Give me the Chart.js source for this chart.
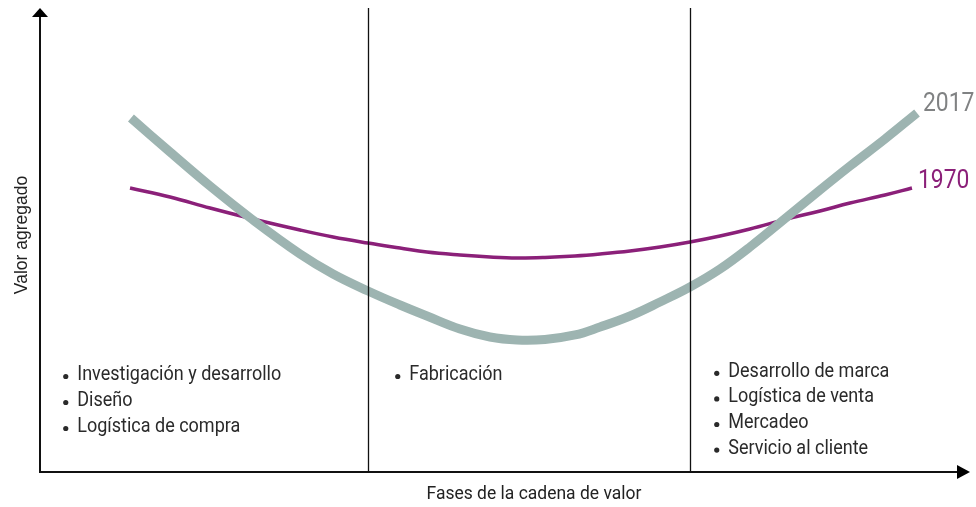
<!DOCTYPE html>
<html>
<head>
<meta charset="utf-8">
<script src="https://cdn.jsdelivr.net/npm/chart.js@4/dist/chart.umd.min.js"></script>
<style>
html,body{margin:0;padding:0;background:#fff;}
#wrap{width:976px;height:507px;}
</style>
</head>
<body>
<div id="wrap"><canvas id="c" width="976" height="507"></canvas></div>
<script>
// ---- Data ----
const seriesNames = ["2017", "1970"];
const x2017 = [9.78, 13.98, 18.28, 22.90, 27.96, 31.51, 35.27, 38.71, 41.61, 45.16, 48.39, 51.29, 54.30,
               57.53, 60.22, 63.44, 66.67, 69.89, 73.12, 76.34, 80.32, 83.87, 87.10, 90.86, 94.30];
const y2017 = [76.29, 68.97, 61.64, 54.31, 46.98, 42.67, 39.01, 35.99, 33.62, 30.82, 29.09, 28.45, 28.56,
               29.53, 31.25, 33.62, 36.64, 39.87, 43.75, 48.49, 54.96, 60.78, 65.95, 71.77, 77.37];
const x1970 = [9.68, 13.98, 18.28, 22.90, 27.96, 31.51, 35.27, 38.71, 41.61, 45.16, 48.39, 51.29, 54.30,
               57.53, 60.22, 63.44, 66.67, 69.89, 73.12, 76.34, 80.32, 83.87, 87.10, 90.86, 93.76];
const y1970 = [61.21, 59.27, 56.90, 54.53, 52.16, 50.65, 49.35, 48.28, 47.41, 46.77, 46.34, 46.12, 46.23,
               46.55, 46.98, 47.63, 48.49, 49.57, 50.86, 52.37, 54.53, 56.25, 57.97, 59.70, 61.21];
const phaseDividers = [35.3, 69.9];
const phaseLeft = ["Investigación y desarrollo", "Diseño", "Logística de compra"];
const phaseMiddle = ["Fabricación"];
const phaseRight = ["Desarrollo de marca", "Logística de venta", "Mercadeo", "Servicio al cliente"];
const xTitle = "Fases de la cadena de valor";
const yTitle = "Valor agregado";

const toPts = (xs, ys) => xs.map((x, i) => ({x: x, y: ys[i]}));
const FONT = "Roboto, 'Liberation Sans', sans-serif";

function condText(ctx, t, x, y, sx) {
  ctx.save();
  ctx.translate(x, y);
  ctx.scale(sx, 1);
  ctx.fillText(t, 0, 0);
  ctx.restore();
}

const overlay = {
  id: 'overlay',
  afterDatasetsDraw(chart) {
    const ctx = chart.ctx;
    const xs = chart.scales.x, ys = chart.scales.y;
    const L = xs.getPixelForValue(0), R = xs.getPixelForValue(100);
    const T = ys.getPixelForValue(100), B = ys.getPixelForValue(0);
    ctx.save();
    // dividers
    ctx.strokeStyle = '#111';
    ctx.lineWidth = 1.3;
    phaseDividers.forEach(v => {
      const px = Math.round(xs.getPixelForValue(v)) + 0.5;
      ctx.beginPath(); ctx.moveTo(px, T); ctx.lineTo(px, B); ctx.stroke();
    });
    // axes
    ctx.lineWidth = 2;
    ctx.beginPath();
    ctx.moveTo(L, T + 6); ctx.lineTo(L, B); ctx.lineTo(R - 8, B);
    ctx.stroke();
    ctx.fillStyle = '#000';
    ctx.beginPath();
    ctx.moveTo(L, T); ctx.lineTo(L - 8, T + 9); ctx.lineTo(L + 8, T + 9); ctx.closePath(); ctx.fill();
    ctx.beginPath();
    ctx.moveTo(R, B); ctx.lineTo(R - 13, B - 7); ctx.lineTo(R - 13, B + 7); ctx.closePath(); ctx.fill();

    // phase lists
    ctx.fillStyle = '#2a2a2a';
    ctx.font = '20px ' + FONT;
    ctx.textBaseline = 'middle';
    ctx.textAlign = 'left';
    const drawList = (list, xv, y0, step) => {
      const px = xs.getPixelForValue(xv);
      list.forEach((t, i) => {
        const py = y0 + i * step;
        ctx.beginPath(); ctx.arc(px + 2.5, py + 1.5, 2.6, 0, Math.PI * 2); ctx.fill();
        condText(ctx, t, px + 14, py, 0.9);
      });
    };
    drawList(phaseLeft, 2.5, ys.getPixelForValue(20.9), 26);
    drawList(phaseMiddle, 38.2, ys.getPixelForValue(20.9), 26);
    drawList(phaseRight, 72.5, ys.getPixelForValue(21.6), 25.6);

    // series end labels
    ctx.font = '26px ' + FONT;
    const ds = chart.data.datasets;
    ds.forEach((d, i) => {
      const last = d.data[d.data.length - 1];
      const px = xs.getPixelForValue(last.x), py = ys.getPixelForValue(last.y);
      ctx.fillStyle = d.labelColor;
      condText(ctx, d.label, px + 6, py + (i === 0 ? -9 : -6), 0.88);
    });

    // axis titles
    ctx.fillStyle = '#222';
    ctx.font = '19px ' + FONT;
    ctx.textAlign = 'center';
    condText(ctx, xTitle, (L + R) / 2 + 29, B + 22, 0.92);
    ctx.save();
    ctx.translate(L - 18, (T + B) / 2 - 5);
    ctx.rotate(-Math.PI / 2);
    ctx.font = "17.5px 'Liberation Sans', Arial, sans-serif";
    ctx.fillText(yTitle, 0, 0);
    ctx.restore();
    ctx.restore();
  }
};

new Chart(document.getElementById('c'), {
  type: 'line',
  data: {
    datasets: [
      {label: seriesNames[0], data: toPts(x2017, y2017), borderColor: '#9db4b1', labelColor: '#808283',
       borderWidth: 9, tension: 0.4, pointRadius: 0, borderCapStyle: 'butt', fill: false},
      {label: seriesNames[1], data: toPts(x1970, y1970), borderColor: '#8b2079', labelColor: '#8b2079',
       borderWidth: 3.5, tension: 0.4, pointRadius: 0, borderCapStyle: 'butt', fill: false}
    ]
  },
  options: {
    responsive: false,
    animation: false,
    layout: {padding: {left: 40, right: 6, top: 8, bottom: 35}},
    plugins: {legend: {display: false}, tooltip: {enabled: false}},
    scales: {
      x: {type: 'linear', min: 0, max: 100, display: false},
      y: {type: 'linear', min: 0, max: 100, display: false}
    }
  },
  plugins: [overlay]
});
</script>
</body>
</html>
